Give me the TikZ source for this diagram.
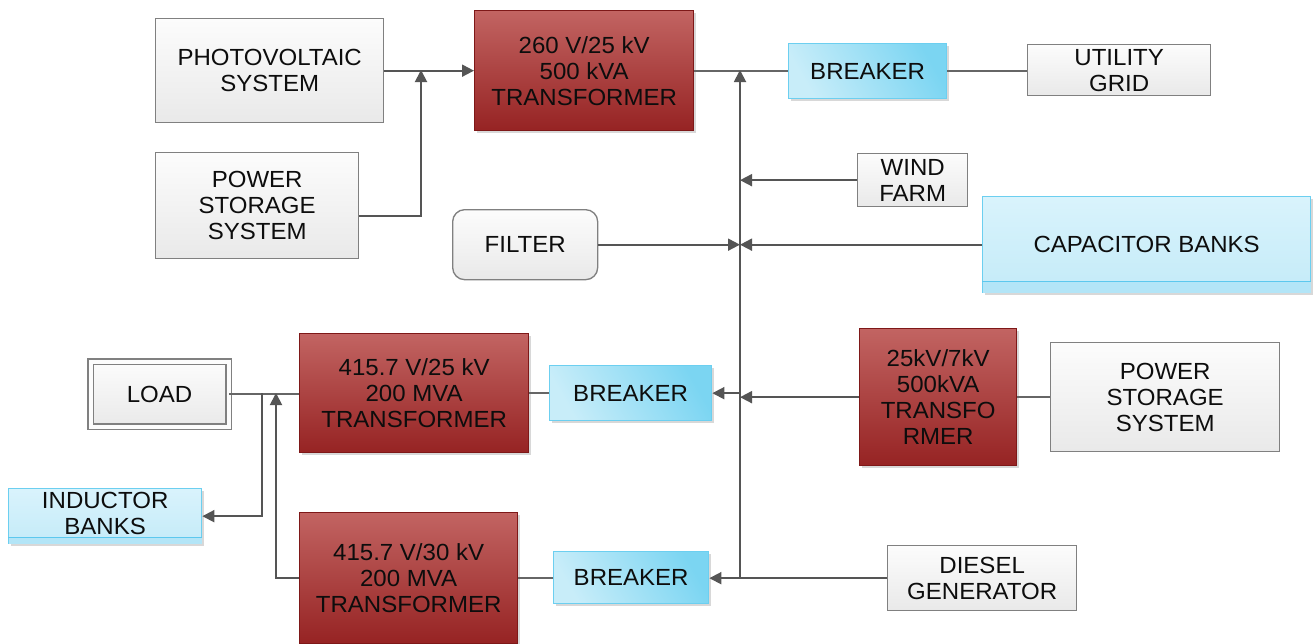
\documentclass[tikz,border=0pt]{standalone}
\usepackage{fontspec}
\setmainfont{Liberation Sans}[FakeStretch=1.03]
\usetikzlibrary{arrows.meta,shadows,calc}
\definecolor{lncol}{HTML}{666666}
\definecolor{arcol}{HTML}{555555}
\definecolor{txtcol}{HTML}{0D0D0D}
\definecolor{gtop}{HTML}{FCFCFC}
\definecolor{gbot}{HTML}{E9E9E9}
\definecolor{gbrd}{HTML}{808080}
\definecolor{rtop}{HTML}{C26462}
\definecolor{rbot}{HTML}{962323}
\definecolor{rbrd}{HTML}{7E1818}
\definecolor{bl}{HTML}{C8EDF9}
\definecolor{br}{HTML}{7BD5F2}
\definecolor{bbrd}{HTML}{6CCFF0}
\definecolor{ctop}{HTML}{D9F3FC}
\definecolor{cbot}{HTML}{C4EBF8}
\definecolor{cband}{HTML}{B3E5F7}
\definecolor{cline}{HTML}{5CC8EE}
\tikzset{
  base/.style={rectangle, inner sep=0pt, align=center, text=txtcol,
    font=\fontsize{17.5}{19.5}\selectfont},
  gbox/.style={base, draw=gbrd, line width=1pt, top color=gtop, bottom color=gbot},
  rbox/.style={base, draw=rbrd, line width=1pt, top color=rtop, bottom color=rbot,
    drop shadow={shadow xshift=2pt, shadow yshift=-2pt, opacity=0.3}},
  bbox/.style={base, draw=bbrd, line width=1pt, left color=bl, right color=br,
    shading angle=120,
    drop shadow={shadow xshift=2pt, shadow yshift=-2pt, opacity=0.3}},
  cbox/.style={base, draw=bbrd, line width=1pt, top color=ctop, bottom color=cbot,
    drop shadow={shadow xshift=2pt, shadow yshift=-2pt, opacity=0.3}},
  fbox/.style={gbox, rounded corners=9pt},
  lbox/.style={base, draw=gbrd, line width=0.9pt, double=gtop, double distance=3pt,
    top color=gtop, bottom color=gbot},
  conn/.style={draw=lncol, line width=1.4pt},
  tip/.style={-{Triangle[length=9pt,width=9pt]}, arcol},
}
\newcommand\mybox[7]{\node[#1, minimum width={(#5-#3)*0.75pt}, minimum height={(#6-#4)*0.75pt}, anchor=north west] (#2) at (#3,#4) {#7};}
\begin{document}
\begin{tikzpicture}[x=0.75pt,y=-0.75pt]
\useasboundingbox[fill=white] (0,0) rectangle (1313,643);
% nodes
\mybox{gbox}{pv}{155}{18}{383}{122}{PHOTOVOLTAIC\\SYSTEM}
\mybox{gbox}{psl}{155}{152}{358}{258}{POWER\\STORAGE\\SYSTEM}
\mybox{rbox}{t1}{474}{10}{693}{130}{260 V/25 kV\\500 kVA\\TRANSFORMER}
\mybox{bbox}{brk1}{788}{43}{946}{98}{BREAKER}
\mybox{gbox}{grid}{1027}{44}{1210}{95}{UTILITY\\GRID}
\mybox{gbox}{wind}{857}{153}{967}{206}{WIND\\FARM}
\mybox{fbox}{filter}{452}{209}{597}{279}{FILTER}
\mybox{cbox}{cap}{982}{196}{1310}{292}{CAPACITOR BANKS}
\mybox{lbox}{load}{90}{361}{228}{426}{LOAD}
\mybox{rbox}{t2}{299}{333}{528}{452}{415.7 V/25 kV\\200 MVA\\TRANSFORMER}
\mybox{bbox}{brk2}{549}{365}{711}{420}{BREAKER}
\mybox{rbox}{t4}{859}{328}{1016}{465}{25kV/7kV\\500kVA\\TRANSFO\\RMER}
\mybox{gbox}{psr}{1050}{342}{1279}{451}{POWER\\STORAGE\\SYSTEM}
\mybox{cbox}{ind}{8}{488}{201}{543}{INDUCTOR\\BANKS\\[-15pt]\mbox{}}
\mybox{rbox}{t3}{299}{512}{517}{643}{415.7 V/30 kV\\200 MVA\\TRANSFORMER}
\mybox{bbox}{brk3}{553}{551}{708}{603}{BREAKER}
\mybox{gbox}{diesel}{887}{545}{1076}{610}{DIESEL\\GENERATOR}
% bands on bank boxes
\fill[cband] ([yshift=9pt,xshift=0.5pt]cap.south west) rectangle ([xshift=-0.5pt,yshift=0.5pt]cap.south east);
\draw[cline, line width=1.2pt] ([yshift=9pt]cap.south west) -- ([yshift=9pt]cap.south east);
\fill[cband] ([yshift=5pt,xshift=0.5pt]ind.south west) rectangle ([xshift=-0.5pt,yshift=0.5pt]ind.south east);
\draw[cline, line width=1.2pt] ([yshift=5pt]ind.south west) -- ([yshift=5pt]ind.south east);
% junction coordinates
\coordinate (j1) at (421,70);
\coordinate (j2) at (421,216);
\coordinate (btop) at (740,70);
\coordinate (bbot) at (740,577);
\coordinate (l1) at (262,393);
\coordinate (l2) at (276,393);
% connectors
\draw[conn,tip] (pv.east) -- (pv.east -| t1.west);
\draw[conn,tip] (j2 -| psl.east) -- (j2) -- (j1);
\draw[conn] (t1.east) -- (t1.east -| brk1.west);
\draw[conn] (brk1.east) -- (brk1.east -| grid.west);
\draw[conn,tip] (bbot) -- (btop);
\draw[conn,tip] (wind.west) -- (wind.west -| btop);
\draw[conn,tip] (filter.east) -- (filter.east -| btop);
\draw[conn,tip] (cap.west) -- (cap.west -| btop);
\draw[conn,tip] (t4.west) -- (t4.west -| btop);
\draw[conn] (psr.west) -- (psr.west -| t4.east);
\draw[conn,tip] (brk2.east -| btop) -- (brk2.east);
\draw[conn] (brk2.west) -- (brk2.west -| t2.east);
\draw[conn,tip] (diesel.west) -- (diesel.west -| brk3.east);
\draw[conn] (brk3.west) -- (brk3.west -| t3.east);
\draw[conn] (load.east) -- (load.east -| t2.west);
\draw[conn,tip] (l1) |- (ind.east);
\draw[conn,tip] (t3.west) -| (l2);
\end{tikzpicture}
\end{document}
